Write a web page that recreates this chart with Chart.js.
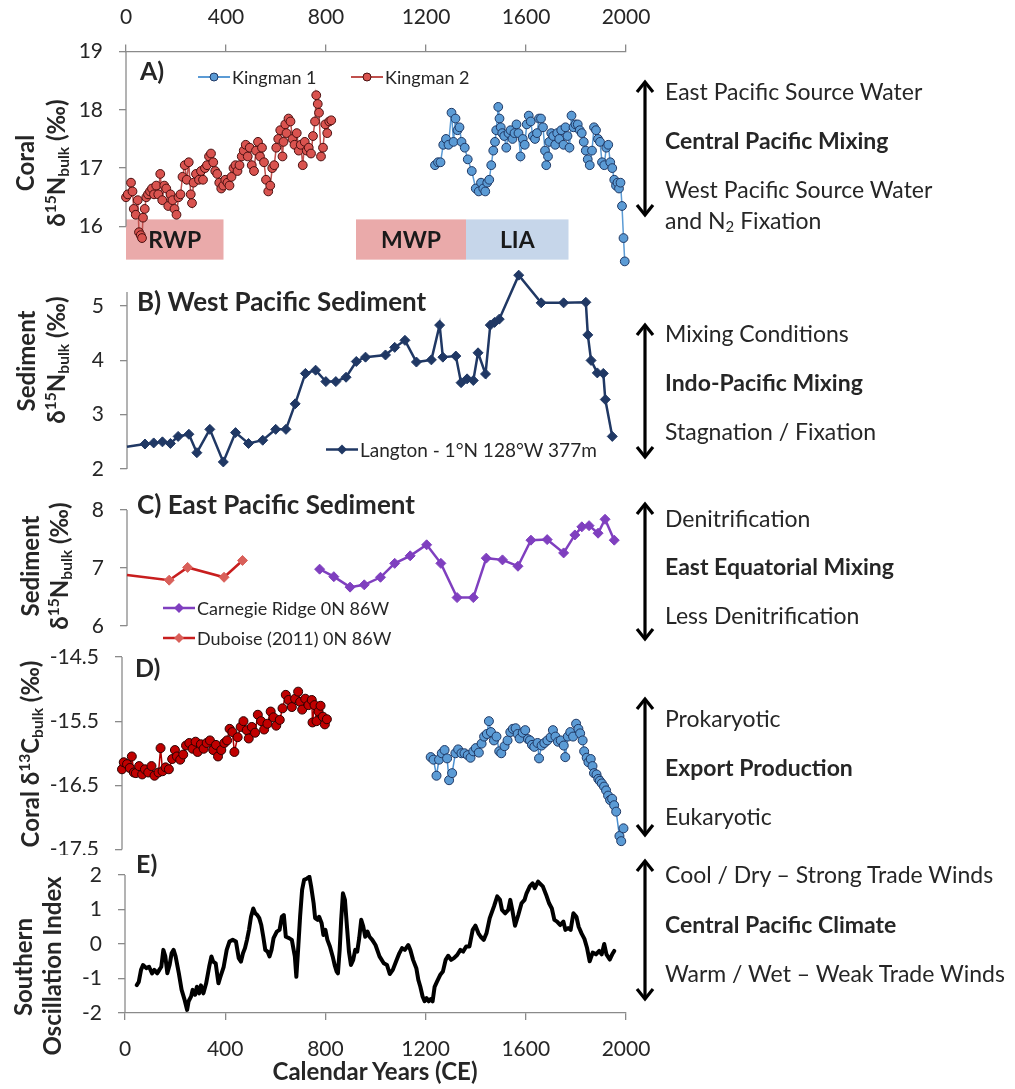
<!DOCTYPE html>
<html>
<head>
<meta charset="utf-8">
<script src="https://cdn.jsdelivr.net/npm/chart.js@4.4.1/dist/chart.umd.min.js"></script>
<style>
  html, body { margin: 0; padding: 0; background: #fff; }
  #page { position: relative; width: 1015px; height: 1089px; overflow: hidden;
          font-family: Lato, "Open Sans", sans-serif; color: #262626; }
  canvas { position: absolute; left: 0; }
  .t { position: absolute; white-space: nowrap; font-size: 23px; line-height: 1; transform: translateY(-50%); }
  .b { font-weight: bold; }
  .rot { position: absolute; white-space: nowrap; font-weight: bold; font-size: 24px; line-height: 1;
         transform: translate(-50%, -50%) rotate(-90deg); }
  sup, sub { font-size: 65%; line-height: 0; }
  sup { vertical-align: 0.55em; }
  sub { vertical-align: -0.25em; }
  .lg { position: absolute; white-space: nowrap; font-size: 18px; line-height: 1; transform: translateY(-50%);
        display: flex; align-items: center; }
  .lg svg { margin-right: 2px; }
  #arrows { position: absolute; left: 0; top: 0; pointer-events: none; }
</style>
</head>
<body>
<div id="page">
  <canvas id="cA" width="1015" height="275" style="top:0px"></canvas>
  <canvas id="cB" width="1015" height="220" style="top:262px"></canvas>
  <canvas id="cC" width="1015" height="170" style="top:482px"></canvas>
  <canvas id="cD" width="1015" height="215" style="top:640px"></canvas>
  <canvas id="cE" width="1015" height="234" style="top:855px"></canvas>

  <svg id="arrows" width="1015" height="1089"></svg>

  <!-- left axis titles -->
  <div class="rot" style="left:25px;top:163px">Coral</div>
  <div class="rot" style="left:56px;top:163px">δ<sup>15</sup>N<sub>bulk</sub> (‰)</div>
  <div class="rot" style="left:26px;top:361px">Sediment</div>
  <div class="rot" style="left:56px;top:360px">δ<sup>15</sup>N<sub>bulk</sub> (‰)</div>
  <div class="rot" style="left:30px;top:566px">Sediment</div>
  <div class="rot" style="left:59px;top:566px">δ<sup>15</sup>N<sub>bulk</sub> (‰)</div>
  <div class="rot" style="left:30px;top:754px">Coral δ<sup>13</sup>C<sub>bulk</sub> (‰)</div>
  <div class="rot" style="left:23px;top:967px">Southern</div>
  <div class="rot" style="left:52px;top:966px">Oscillation Index</div>
  <div class="t b" style="left:375px;top:1071px;font-size:24px;transform:translate(-50%,-50%)">Calendar Years (CE)</div>

  <!-- panel labels -->
  <div class="t b" style="left:140px;top:70px;font-size:25px">A)</div>
  <div class="t b" style="left:137px;top:301px;font-size:26px">B) West Pacific Sediment</div>
  <div class="t b" style="left:137px;top:504px;font-size:26px">C) East Pacific Sediment</div>
  <div class="t b" style="left:135px;top:667px;font-size:25px">D)</div>
  <div class="t b" style="left:136px;top:863px;font-size:25px">E)</div>

  <!-- right-hand interpretation labels -->
  <div class="t" style="left:665px;top:91px">East Pacific Source Water</div>
  <div class="t b" style="left:665px;top:140px">Central Pacific Mixing</div>
  <div class="t" style="left:665px;top:189px">West Pacific Source Water</div>
  <div class="t" style="left:665px;top:220px">and N<sub>2</sub> Fixation</div>

  <div class="t" style="left:665px;top:333px">Mixing Conditions</div>
  <div class="t b" style="left:665px;top:382px">Indo-Pacific Mixing</div>
  <div class="t" style="left:665px;top:431px">Stagnation / Fixation</div>

  <div class="t" style="left:665px;top:518px">Denitrification</div>
  <div class="t b" style="left:665px;top:566px">East Equatorial Mixing</div>
  <div class="t" style="left:665px;top:615px">Less Denitrification</div>

  <div class="t" style="left:665px;top:718px">Prokaryotic</div>
  <div class="t b" style="left:665px;top:767px">Export Production</div>
  <div class="t" style="left:665px;top:816px">Eukaryotic</div>

  <div class="t" style="left:665px;top:874px">Cool / Dry – Strong Trade Winds</div>
  <div class="t b" style="left:665px;top:924px">Central Pacific Climate</div>
  <div class="t" style="left:665px;top:973px">Warm / Wet – Weak Trade Winds</div>

  <!-- legends -->
  <div class="lg" style="left:198px;top:77px"><svg width="32" height="12"><line x1="0" y1="6" x2="32" y2="6" stroke="#5b9bd5" stroke-width="2"/><circle cx="16" cy="6" r="4" fill="#5b9bd5" stroke="#1f3864" stroke-width="1"/></svg>Kingman 1</div>
  <div class="lg" style="left:351px;top:77px"><svg width="32" height="12"><line x1="0" y1="6" x2="32" y2="6" stroke="#c0504d" stroke-width="2"/><circle cx="16" cy="6" r="4" fill="#d9534f" stroke="#4a1010" stroke-width="1"/></svg>Kingman 2</div>
  <div class="lg" style="left:326px;top:449px;font-size:19px"><svg width="32" height="14"><line x1="0" y1="7" x2="32" y2="7" stroke="#203864" stroke-width="2.5"/><polygon points="16,2 21,7 16,12 11,7" fill="#203864"/></svg>Langton - 1°N 128°W 377m</div>
  <div class="lg" style="left:163px;top:608px"><svg width="32" height="14"><line x1="0" y1="7" x2="32" y2="7" stroke="#7f3fbf" stroke-width="2.5"/><polygon points="16,2 21,7 16,12 11,7" fill="#7f3fbf"/></svg>Carnegie Ridge 0N 86W</div>
  <div class="lg" style="left:163px;top:638px"><svg width="32" height="14"><line x1="0" y1="7" x2="32" y2="7" stroke="#c81e1e" stroke-width="2.5"/><polygon points="16,2 21,7 16,12 11,7" fill="#d9605a"/></svg>Duboise (2011) 0N 86W</div>
</div>

<script>
// ---- axis ticks ----
const yearTicks = [0, 400, 800, 1200, 1600, 2000];
const ticksA = [16, 17, 18, 19];
const ticksB = [2, 3, 4, 5];
const ticksC = [6, 7, 8];
const ticksD = [-17.5, -16.5, -15.5, -14.5];
const ticksE = [-2, -1, 0, 1, 2];

// ---- A) coral d15N ----
const kingman2Years = [0,7,20,26,31,39,47,52,59,64,68,75,81,88,96,104,112,121,129,137,
  145,153,161,169,178,186,194,202,210,218,226,235,243,251,259,264,270,280,292,300,
  308,316,324,332,340,349,357,365,373,381,389,397,406,414,422,430,438,446,454,463,
  471,479,487,495,503,512,520,528,536,544,552,560,569,577,585,593,601,609,617,626,
  630,637,642,650,658,666,674,683,691,699,707,715,723,731,740,748,756,761,767,772,
  780,788,797,805,813,821];
const kingman2N = [16.5,16.55,16.75,16.6,16.3,16.2,16.45,15.9,15.85,15.8,
  16.15,16.3,16.5,16.55,16.6,16.65,16.55,16.7,16.55,16.9,
  16.45,16.7,16.65,16.35,16.55,16.45,16.3,16.2,16.5,16.55,
  16.85,17.05,16.8,17.1,16.55,16.4,16.75,16.9,16.8,16.95,
  16.8,17.0,17.05,17.2,17.25,17.1,16.95,16.9,16.75,16.65,
  16.7,16.8,16.75,16.7,16.85,17.0,17.05,16.95,17.05,17.2,
  17.3,17.4,17.2,17.35,17.05,16.95,17.3,17.45,17.2,17.35,
  17.1,16.8,16.6,16.7,17.0,17.05,17.35,17.5,17.65,17.2,
  17.45,17.75,17.6,17.85,17.8,17.5,17.4,17.6,17.3,17.4,
  17.05,17.45,17.3,17.35,17.25,17.55,17.8,18.25,18.1,17.95,
  17.2,17.35,17.75,17.6,17.8,17.82];

const kingman1Years = [1236,1248,1258,1269,1280,1290,1302,1310,1318,1326,
  1334,1342,1355,1367,1383,1399,1411,1420,1429,1437,
  1445,1453,1461,1469,1476,1481,1489,1494,1499,1505,
  1513,1521,1530,1538,1546,1554,1562,1570,1578,1587,
  1595,1603,1611,1619,1627,1636,1644,1652,1660,1668,
  1676,1681,1688,1693,1701,1709,1717,1725,1733,1741,
  1750,1758,1766,1774,1782,1790,1798,1807,1815,1823,
  1831,1839,1847,1855,1864,1872,1880,1888,1896,1904,
  1913,1921,1929,1937,1945,1953,1960,1966,1972,1978,
  1984,1990,1995];
const kingman1N = [17.05,17.1,17.1,17.4,17.5,17.4,17.95,17.45,17.85,17.65,
  17.7,17.45,17.35,17.15,16.95,16.65,16.6,16.75,16.65,16.6,
  16.75,16.8,17.05,17.3,17.45,17.65,18.05,17.85,17.7,17.6,
  17.55,17.35,17.6,17.65,17.5,17.6,17.75,17.6,17.2,17.5,
  17.4,17.75,17.9,17.8,17.55,17.5,17.6,17.85,17.85,17.7,
  17.3,17.05,17.2,17.45,17.6,17.55,17.4,17.6,17.5,17.65,
  17.4,17.7,17.55,17.35,17.9,17.7,17.75,17.75,17.65,17.6,
  17.45,17.3,17.15,17.05,17.3,17.7,17.65,17.5,17.45,17.1,
  17.05,17.35,17.4,17.1,17.0,16.8,16.7,16.75,16.65,16.75,
  16.35,15.8,15.4];

// climate periods shaded under panel A
const periodNames = ['RWP', 'MWP', 'LIA'];
const periodStart = [0, 920, 1360];
const periodEnd = [390, 1360, 1770];
const periodColors = ['#eaaaaa', '#eaaaaa', '#c6d6ea'];
const periodTop = 16.12;
const periodBottom = 15.43;

// ---- B) West Pacific sediment ----
const langtonYears = [0,72,107,142,174,205,248,280,332,386,
  435,487,544,596,637,674,715,756,797,837,
  878,919,956,1036,1073,1114,1160,1220,1253,1266,
  1318,1339,1363,1388,1407,1437,1456,1473,1492,1570,
  1660,1750,1839,1847,1860,1885,1909,1917,1945];
const langtonN = [2.41,2.46,2.48,2.5,2.47,2.6,2.64,2.3,2.73,2.13,
  2.67,2.47,2.53,2.73,2.73,3.2,3.76,3.82,3.61,3.61,
  3.69,3.98,4.06,4.1,4.24,4.37,3.97,4.01,4.65,4.06,
  4.08,3.59,3.66,3.63,4.14,3.75,4.65,4.7,4.76,5.57,
  5.06,5.06,5.07,4.47,4.0,3.77,3.76,3.28,2.6];

// ---- C) East Pacific sediment ----
const carnegieYears = [772,829,894,951,1016,1073,1135,1201,1258,1323,1388,1440,
  1505,1567,1619,1684,1750,1795,1823,1852,1888,1916,1953];
const carnegieN = [6.98,6.85,6.67,6.71,6.84,7.08,7.21,7.4,7.08,6.49,6.49,7.17,
  7.14,7.03,7.48,7.49,7.26,7.57,7.71,7.73,7.6,7.84,7.48];
const duboiseYears = [0, 169, 243, 389, 463];
const duboiseN = [6.88, 6.79, 7.01, 6.84, 7.13];

// ---- D) coral d13C ----
const kingman2CYears = [0,7,20,31,39,47,55,68,80,91,
  104,117,129,145,153,161,173,186,199,210,
  218,231,243,254,267,280,292,300,313,324,
  336,349,362,373,381,394,406,417,427,438,
  446,459,471,482,495,503,515,528,539,552,
  564,577,590,601,612,626,637,650,661,674,
  687,699,707,715,727,740,753,756,764,772,
  780,788,797,805,813];
const kingman2C = [-16.25,-16.14,-16.17,-16.23,-16.05,-16.3,-16.31,-16.2,-16.33,-16.25,
  -16.3,-16.2,-16.35,-16.3,-15.92,-16.28,-16.22,-16.25,-16.09,-15.95,
  -16.05,-16.1,-16.02,-15.88,-15.84,-15.93,-15.82,-15.98,-15.86,-15.93,
  -15.84,-15.8,-15.95,-15.87,-16.05,-15.95,-15.84,-15.8,-15.62,-15.67,
  -15.98,-15.75,-15.59,-15.5,-15.64,-15.77,-15.59,-15.68,-15.4,-15.5,
  -15.63,-15.54,-15.35,-15.44,-15.57,-15.48,-15.3,-15.09,-15.17,-15.28,
  -15.15,-15.04,-15.2,-15.32,-15.15,-15.25,-15.17,-15.52,-15.25,-15.5,
  -15.35,-15.26,-15.43,-15.55,-15.47];

const kingman1CYears = [1225,1236,1248,1258,1269,1280,1290,1298,1310,1323,
  1334,1347,1359,1372,1383,1394,1404,1416,1427,1437,
  1448,1456,1464,1476,1486,1497,1505,1518,1530,1541,
  1551,1562,1570,1578,1590,1600,1611,1619,1627,1636,
  1649,1655,1665,1676,1688,1701,1710,1720,1730,1741,
  1753,1759,1769,1779,1790,1802,1811,1818,1828,1834,
  1844,1851,1860,1867,1873,1883,1890,1896,1904,1913,
  1921,1929,1937,1945,1953,1961,1974,1981,1990];
const kingman1C = [-16.06,-16.1,-16.35,-16.1,-16.0,-15.95,-16.08,-16.42,-16.31,-16.0,
  -15.94,-16.0,-16.0,-16.03,-16.07,-15.97,-15.92,-15.99,-15.85,-15.74,
  -15.7,-15.5,-15.67,-15.8,-15.74,-15.97,-16.0,-15.89,-15.8,-15.67,
  -15.62,-15.61,-15.7,-15.77,-15.68,-15.64,-15.78,-15.8,-15.87,-15.9,
  -15.84,-16.08,-15.88,-15.84,-15.8,-15.75,-15.64,-15.74,-15.82,-15.8,
  -15.88,-16.06,-15.74,-15.67,-15.74,-15.54,-15.62,-15.69,-15.8,-15.97,
  -16.07,-16.14,-16.09,-16.2,-16.31,-16.33,-16.4,-16.43,-16.47,-16.52,
  -16.58,-16.66,-16.73,-16.71,-16.81,-16.91,-17.29,-17.37,-17.17];

// ---- E) Southern Oscillation Index ----
const soiYears = [47,55,64,72,85,96,108,117,129,137,
  145,153,161,169,178,186,194,202,215,226,
  238,248,254,264,270,280,287,296,303,313,
  324,336,345,352,362,373,381,394,406,417,
  430,443,454,463,471,479,487,495,503,512,
  520,528,536,544,552,560,569,577,585,593,
  606,617,626,634,642,655,666,678,684,691,
  699,707,715,727,736,743,753,759,769,775,
  785,792,800,808,818,829,837,845,850,857,
  863,870,878,886,894,902,911,919,927,935,
  943,951,959,968,976,987,1000,1016,1033,1046,
  1057,1069,1082,1095,1106,1117,1131,1139,1150,1163,
  1171,1179,1188,1196,1204,1212,1220,1228,1236,1245,
  1258,1269,1280,1290,1302,1313,1326,1339,1350,1362,
  1375,1388,1399,1411,1420,1432,1443,1456,1473,1486,
  1497,1505,1518,1530,1538,1546,1557,1570,1583,1595,
  1603,1616,1627,1636,1649,1655,1668,1681,1693,1704,
  1714,1725,1737,1750,1758,1769,1779,1790,1802,1811,
  1823,1834,1844,1855,1867,1880,1893,1903,1913,1922,
  1935,1945,1953];
const soiValues = [-1.19,-1.1,-0.75,-0.61,-0.7,-0.66,-0.85,-0.75,-0.85,-0.75,
  -0.66,-0.17,-0.36,-0.85,-0.61,-0.27,-0.17,-0.36,-0.85,-1.33,
  -1.62,-1.91,-1.66,-1.52,-1.33,-1.47,-1.24,-1.43,-1.2,-1.43,
  -1.14,-0.66,-0.36,-0.51,-0.56,-1.14,-0.95,-0.66,-0.17,0.07,
  0.12,0.07,-0.41,-0.51,-0.27,-0.12,0.12,0.41,0.79,1.03,
  0.89,0.84,0.75,0.55,0.21,-0.17,-0.22,-0.36,-0.17,0.17,
  0.36,0.41,0.79,0.84,0.21,0.17,0.12,-0.36,-0.95,-0.17,
  0.79,1.57,1.86,1.9,1.95,1.67,1.18,0.75,0.7,0.79,
  0.6,0.26,0.41,0.12,-0.07,-0.36,-0.61,-0.8,-0.85,-0.17,
  0.7,1.47,1.28,0.51,-0.22,-0.61,-0.46,-0.17,-0.22,0.17,
  0.7,0.51,0.21,0.36,0.21,0.12,-0.03,-0.36,-0.56,-0.61,
  -0.87,-0.75,-0.51,-0.27,-0.12,-0.17,-0.03,-0.17,-0.46,-0.7,
  -1.04,-1.24,-1.52,-1.66,-1.57,-1.66,-1.6,-1.66,-1.24,-1.1,
  -0.9,-0.8,-0.46,-0.34,-0.46,-0.41,-0.32,-0.17,-0.22,-0.07,
  -0.07,0.41,0.53,0.31,0.21,0.12,0.31,0.75,1.09,1.38,
  1.28,0.99,0.89,0.99,1.28,0.99,0.53,0.84,1.18,1.28,
  1.47,1.67,1.76,1.62,1.81,1.76,1.67,1.43,1.18,1.03,
  0.7,0.65,0.55,0.65,0.41,0.46,0.41,0.89,0.79,0.5,
  0.3,0.15,-0.1,-0.5,-0.25,-0.3,-0.2,-0.3,0.0,-0.3,
  -0.45,-0.3,-0.2];

// ---- shared styling ----
const FONT = 'Lato, "Open Sans", sans-serif';
const tickFont = { family: FONT, size: 21 };
const tickColor = '#262626';
const axisColor = '#8a8a8a';
const RIGHT_PAD = 1015 - 626;

function pts(xs, ys) { return xs.map((x, i) => ({ x: x, y: ys[i] })); }

function yAxis(ticks, min, max, left) {
  return {
    type: 'linear', position: 'left', min: min, max: max,
    afterFit: s => {
      s.width = left;
      // keep the plot area exactly where the layout padding puts it
      s.paddingTop = 0; s.paddingBottom = 0; s.paddingLeft = 0; s.paddingRight = 0;
    },
    afterBuildTicks: s => { s.ticks = ticks.map(v => ({ value: v })); },
    ticks: { font: tickFont, color: tickColor, padding: 16, callback: v => String(v) },
    grid: { drawOnChartArea: false, drawTicks: true, tickLength: 7, color: axisColor, lineWidth: 1.3 },
    border: { display: false }
  };
}

function xAxis(display, position, height, pad) {
  return {
    type: 'linear', min: 0, max: 2000, display: display, position: position || 'bottom',
    afterFit: s => {
      if (height) s.height = height;
      s.paddingTop = 0; s.paddingBottom = 0; s.paddingLeft = 0; s.paddingRight = 0;
    },
    afterBuildTicks: s => { s.ticks = yearTicks.map(v => ({ value: v })); },
    ticks: { font: tickFont, color: tickColor, padding: pad || 12, maxRotation: 0, autoSkip: false, callback: v => String(v) },
    grid: { drawOnChartArea: false, drawTicks: true, tickLength: 7, color: axisColor, lineWidth: 1.3 },
    border: { display: true, color: axisColor, width: 1.3 }
  };
}

// vertical axis line limited to the labelled value range
const axisLinePlugin = {
  id: 'axisLine',
  beforeDatasetsDraw(chart, args, opts) {
    const ys = chart.scales.y, ctx = chart.ctx, x = chart.chartArea.left;
    ctx.save();
    ctx.strokeStyle = axisColor;
    ctx.lineWidth = 1.3;
    ctx.beginPath();
    ctx.moveTo(x, ys.getPixelForValue(opts.from));
    ctx.lineTo(x, ys.getPixelForValue(opts.to));
    ctx.stroke();
    ctx.restore();
  }
};

function baseOptions(padTop, padBottom, scales, axisFrom, axisTo) {
  return {
    responsive: false, animation: false, devicePixelRatio: 1, events: [],
    layout: { padding: { left: 0, right: RIGHT_PAD, top: padTop, bottom: padBottom } },
    plugins: { legend: { display: false }, tooltip: { enabled: false }, axisLine: { from: axisFrom, to: axisTo } },
    scales: scales
  };
}

function circleSeries(xs, ys, line, fill, edge, r) {
  return {
    data: pts(xs, ys), borderColor: line, borderWidth: 1.5, tension: 0, fill: false, clip: false,
    pointStyle: 'circle', pointRadius: r, pointBackgroundColor: fill, pointBorderColor: edge, pointBorderWidth: 1
  };
}

function diamondSeries(xs, ys, line, fill, hideFirst) {
  return {
    data: pts(xs, ys), borderColor: line, borderWidth: 2.5, tension: 0, fill: false, clip: false,
    pointStyle: 'rectRot',
    pointRadius: xs.map((_, i) => (hideFirst && i === 0) ? 0 : 5),
    pointBackgroundColor: fill, pointBorderColor: fill, pointBorderWidth: 1
  };
}

// shaded climate periods drawn beneath the panel A data
const periodPlugin = {
  id: 'periods',
  beforeDatasetsDraw(chart) {
    const xs = chart.scales.x, ys = chart.scales.y, ctx = chart.ctx;
    const yT = ys.getPixelForValue(periodTop), yB = ys.getPixelForValue(periodBottom);
    ctx.save();
    periodNames.forEach((name, i) => {
      const x1 = xs.getPixelForValue(periodStart[i]), x2 = xs.getPixelForValue(periodEnd[i]);
      ctx.fillStyle = periodColors[i];
      ctx.fillRect(x1, yT, x2 - x1, yB - yT);
      ctx.fillStyle = '#1a1a1a';
      ctx.font = 'bold 23px ' + FONT;
      ctx.textAlign = 'center';
      ctx.textBaseline = 'middle';
      ctx.fillText(name, (x1 + x2) / 2, (yT + yB) / 2 + 1);
    });
    ctx.restore();
  }
};

// A  (y 16..19 spans 51.5..226.4; the scale runs lower so the deepest points still draw)
new Chart(document.getElementById('cA'), {
  type: 'line',
  data: { datasets: [
    circleSeries(kingman1Years, kingman1N, '#5b9bd5', '#5b9bd5', '#1f3864', 4.4),
    circleSeries(kingman2Years, kingman2N, '#c0504d', '#d9534f', '#4a1010', 4.4)
  ] },
  options: baseOptions(0, 275 - 264.3, { x: xAxis(true, 'top', 51.5, 15), y: yAxis(ticksA, 15.35, 19, 126) }, 16, 19),
  plugins: [periodPlugin, axisLinePlugin]
});

// B
new Chart(document.getElementById('cB'), {
  type: 'line',
  data: { datasets: [ diamondSeries(langtonYears, langtonN, '#203864', '#203864', true) ] },
  options: baseOptions(6.1, 13, { x: xAxis(false), y: yAxis(ticksB, 2, 5.7, 127) }, 2, 5.26),
  plugins: [axisLinePlugin]
});

// C
new Chart(document.getElementById('cC'), {
  type: 'line',
  data: { datasets: [
    diamondSeries(carnegieYears, carnegieN, '#7f3fbf', '#7f3fbf', false),
    diamondSeries(duboiseYears, duboiseN, '#c81e1e', '#d9605a', true)
  ] },
  options: baseOptions(28, 26, { x: xAxis(false), y: yAxis(ticksC, 6, 8, 127) }, 6, 8),
  plugins: [axisLinePlugin]
});

// D
new Chart(document.getElementById('cD'), {
  type: 'line',
  data: { datasets: [
    circleSeries(kingman1CYears, kingman1C, '#4a8fd0', '#5b9bd5', '#1f3864', 4.5),
    circleSeries(kingman2CYears, kingman2C, '#b00000', '#c00000', '#2a0000', 4.5)
  ] },
  options: baseOptions(17, 5, { x: xAxis(false), y: yAxis(ticksD, -17.5, -14.5, 122) }, -17.5, -14.5),
  plugins: [axisLinePlugin]
});

// E
new Chart(document.getElementById('cE'), {
  type: 'line',
  data: { datasets: [ {
    data: pts(soiYears, soiValues), borderColor: '#000', borderWidth: 4, tension: 0, fill: false,
    pointRadius: 0, borderJoinStyle: 'round', borderCapStyle: 'round'
  } ] },
  options: baseOptions(20, 0, { x: xAxis(true, 'bottom', 76, 17), y: yAxis(ticksE, -2, 2, 125) }, -2, 2),
  plugins: [axisLinePlugin]
});

// double-headed arrows beside each panel
const arrowX = 645;
const arrowTops = [82, 325, 504, 699, 861];
const arrowBottoms = [215, 457, 639, 835, 999];
const svg = document.getElementById('arrows');
const NS = 'http://www.w3.org/2000/svg';
arrowTops.forEach((t, i) => {
  const b = arrowBottoms[i];
  const line = document.createElementNS(NS, 'line');
  line.setAttribute('x1', arrowX); line.setAttribute('x2', arrowX);
  line.setAttribute('y1', t + 1); line.setAttribute('y2', b - 1);
  line.setAttribute('stroke', '#000'); line.setAttribute('stroke-width', '3.2');
  svg.appendChild(line);
  [[t, 1], [b, -1]].forEach(([y, d]) => {
    const p = document.createElementNS(NS, 'polyline');
    p.setAttribute('points', `${arrowX - 8},${y + d * 10} ${arrowX},${y} ${arrowX + 8},${y + d * 10}`);
    p.setAttribute('fill', 'none'); p.setAttribute('stroke', '#000');
    p.setAttribute('stroke-width', '3.2'); p.setAttribute('stroke-linejoin', 'miter');
    svg.appendChild(p);
  });
});
</script>
</body>
</html>
